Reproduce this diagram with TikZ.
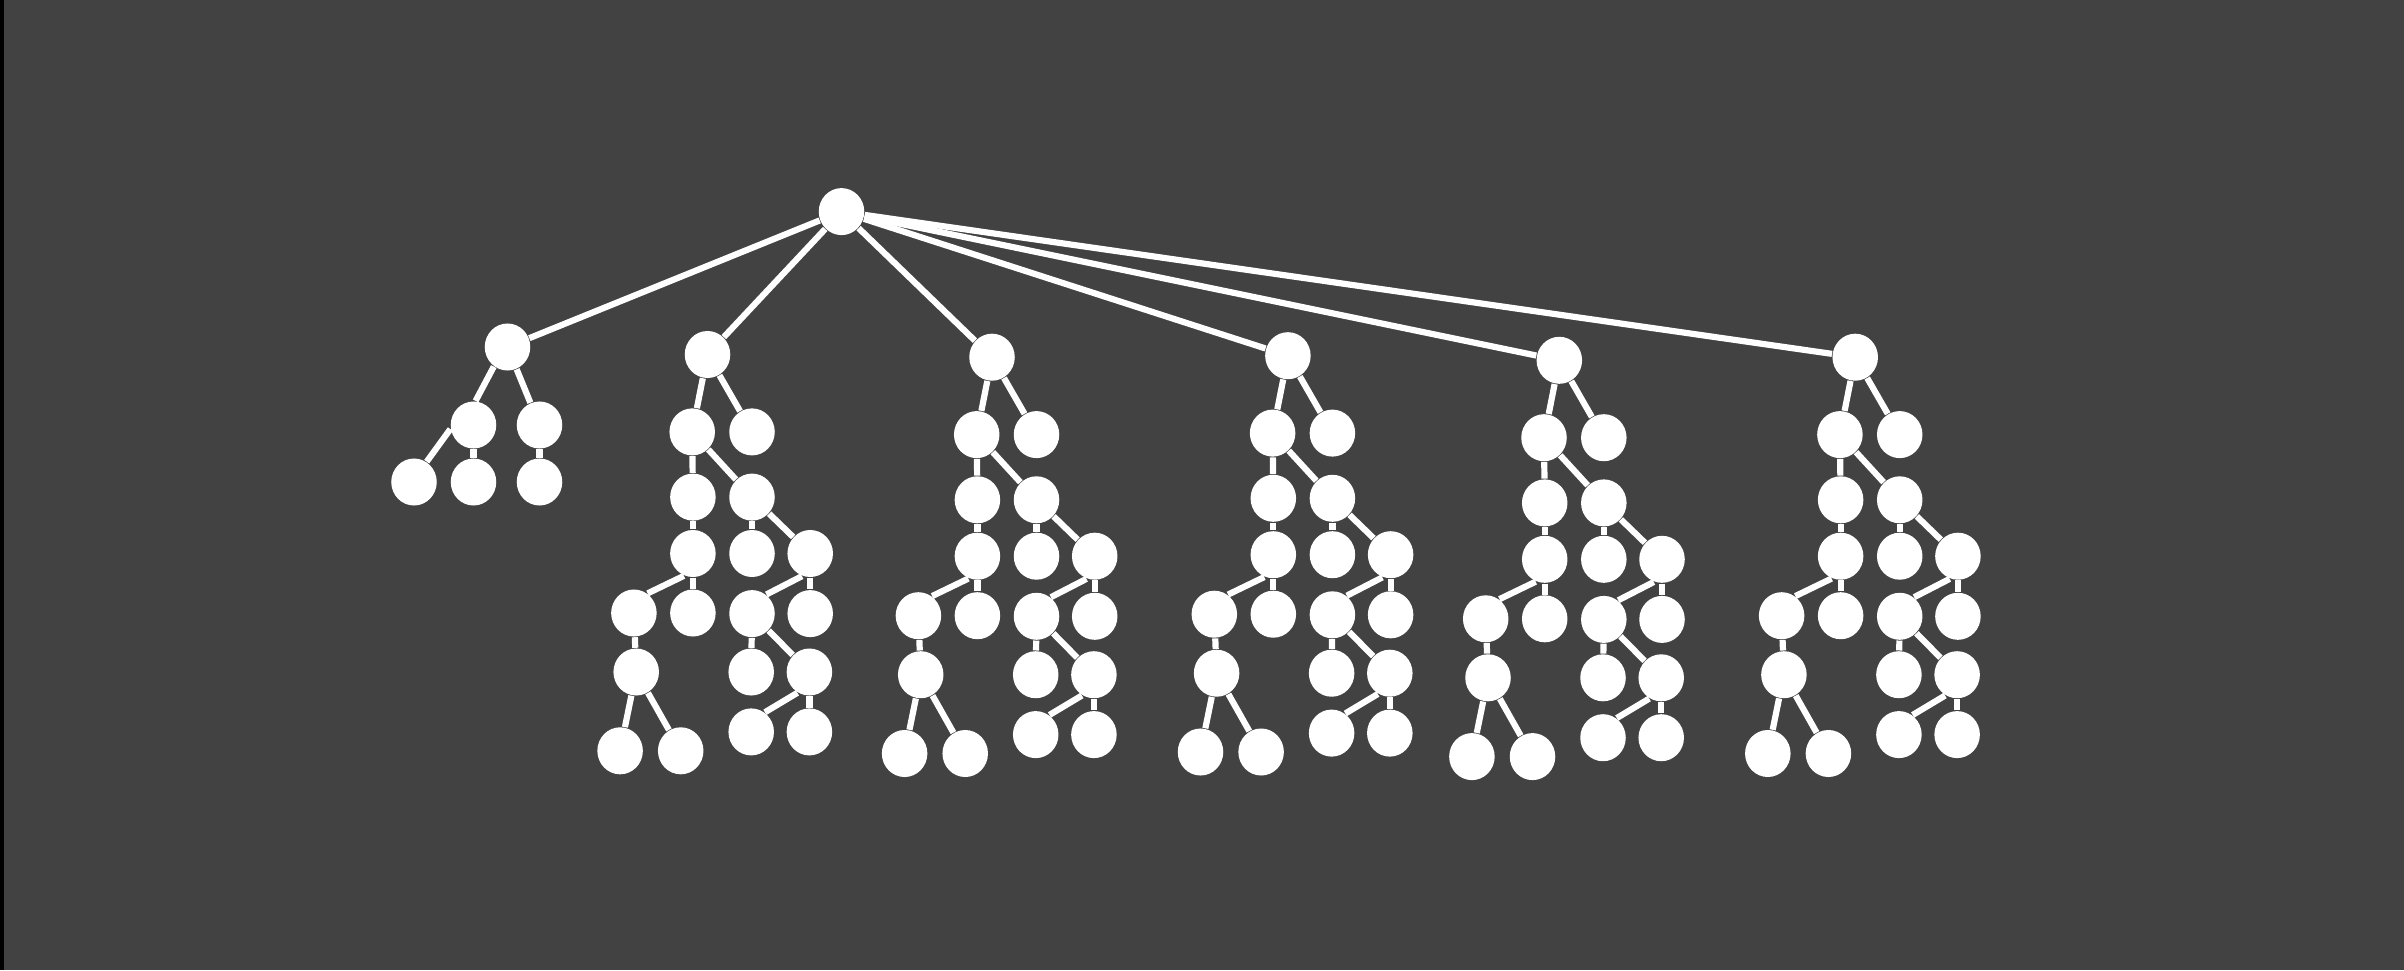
\documentclass[tikz,border=0pt]{standalone}
\usetikzlibrary{shapes.geometric}
\definecolor{bg}{HTML}{424242}
\tikzset{
  tn/.style={ellipse, fill=white, draw=none, minimum width=0.455cm, minimum height=0.47cm, inner sep=0pt},
  te/.style={draw=white, line width=0.062cm}
}
\newcommand\subtr[3]{%
  \begin{scope}[shift={(#2,#3)}]
    \node[tn] (#1) at (0,0) {};
    \node[tn] (#1-a) at (-15.3,77.4) {};
    \node[tn] (#1-b) at (44.5,77.4) {};
    \node[tn] (#1-a1) at (-14.6,142.6) {};
    \node[tn] (#1-a2) at (44.5,142.6) {};
    \node[tn] (#1-a11) at (-14.6,199) {};
    \node[tn] (#1-a111) at (-73.6,258.5) {};
    \node[tn] (#1-a112) at (-14.6,258.5) {};
    \node[tn] (#1-c) at (-71.3,317.5) {};
    \node[tn] (#1-c1) at (-87.4,396.3) {};
    \node[tn] (#1-c2) at (-26.8,396.3) {};
    \node[tn] (#1-a21) at (44.5,199) {};
    \node[tn] (#1-a22) at (102.7,199) {};
    \node[tn] (#1-a221) at (44.5,259.1) {};
    \node[tn] (#1-a222) at (102.7,259.1) {};
    \node[tn] (#1-a2211) at (43.7,317.5) {};
    \node[tn] (#1-a2212) at (101.9,317.5) {};
    \node[tn] (#1-d1) at (43.7,377.4) {};
    \node[tn] (#1-d2) at (101.9,377.4) {};
  \end{scope}
  \draw[te] (#1) -- (#1-a);
  \draw[te] (#1) -- (#1-b);
  \draw[te] (#1-a) -- (#1-a1);
  \draw[te] (#1-a) -- (#1-a2);
  \draw[te] (#1-a1) -- (#1-a11);
  \draw[te] (#1-a11.248) -- (#1-a111.55);
  \draw[te] (#1-a11) -- (#1-a112);
  \draw[te] (#1-a111) -- (#1-c);
  \draw[te] (#1-c) -- (#1-c1);
  \draw[te] (#1-c) -- (#1-c2);
  \draw[te] (#1-a2) -- (#1-a21);
  \draw[te] (#1-a2) -- (#1-a22);
  \draw[te] (#1-a22.250) -- (#1-a221.53);
  \draw[te] (#1-a22) -- (#1-a222);
  \draw[te] (#1-a221) -- (#1-a2211);
  \draw[te] (#1-a221) -- (#1-a2212);
  \draw[te] (#1-a2212.240) -- (#1-d1.55);
  \draw[te] (#1-a2212) -- (#1-d2);
}
\begin{document}
\begin{tikzpicture}[x=0.01cm, y=-0.01cm]
  \useasboundingbox (0,0) rectangle (2404,970);
  \fill[bg] (0,0) rectangle (2404,970);
  \fill[black] (0,0) rectangle (4,970);
  % main root
  \node[tn] (r) at (841.5,211.6) {};
  % small tree
  \node[tn] (t0) at (507.5,347) {};
  \node[tn] (t0-a) at (473.5,425) {};
  \node[tn] (t0-b) at (539.5,425) {};
  \node[tn] (t0-a1) at (414,482) {};
  \node[tn] (t0-a2) at (473.5,482) {};
  \node[tn] (t0-b1) at (539.5,482) {};
  \draw[te] (t0.235) -- (t0-a.85);
  \draw[te] (t0) -- (t0-b);
  \draw[te] (t0-a.190) -- (t0-a1.58);
  \draw[te] (t0-a) -- (t0-a2);
  \draw[te] (t0-b) -- (t0-b1);
  % big subtrees
  \subtr{t1}{707.5}{354.5}
  \subtr{t2}{992}{357.2}
  \subtr{t3}{1287.9}{355.7}
  \subtr{t4}{1559.3}{360.3}
  \subtr{t5}{1855.2}{357.2}
  \foreach \t in {t0,t1,t2,t3,t4,t5} {\draw[te] (r) -- (\t);}
\end{tikzpicture}
\end{document}
